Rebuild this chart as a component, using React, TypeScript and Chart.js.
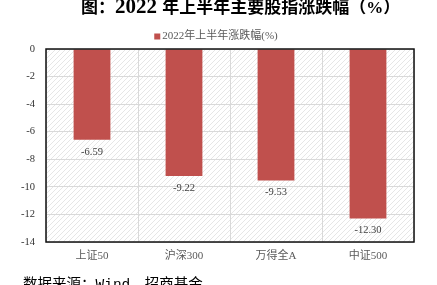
import React, { useEffect, useRef } from "react";
import { Chart, registerables } from "chart.js";
Chart.register(...registerables);

const titleHead = "图：";
const titleYear = "2022 ";
const titleTail = "年上半年主要股指涨跌幅（%）";
const categories = ["上证50", "沪深300", "万得全A", "中证500"];
const values = [-6.59, -9.22, -9.53, -12.3];
const seriesLabel = "2022年上半年涨跌幅(%)";
const yTicks = [0, -2, -4, -6, -8, -10, -12, -14];
const barColor = "#C0504D";
const FAMILY = '"Liberation Serif", "Times New Roman", "Noto Sans CJK SC", serif';

const chartPlugin = {
  id: "decor",
  beforeDraw(chart: any) {
    const { ctx, chartArea: a } = chart;
    const p = document.createElement("canvas");
    p.width = 5;
    p.height = 5;
    const pc = p.getContext("2d")!;
    pc.strokeStyle = "#e6e6e6";
    pc.lineWidth = 1;
    pc.beginPath();
    pc.moveTo(0, 5);
    pc.lineTo(5, 0);
    pc.moveTo(-1, 1);
    pc.lineTo(1, -1);
    pc.moveTo(4, 6);
    pc.lineTo(6, 4);
    pc.stroke();
    ctx.save();
    ctx.fillStyle = "#ffffff";
    ctx.fillRect(0, 0, chart.width, chart.height);
    const pat = ctx.createPattern(p, "repeat");
    if (pat) {
      ctx.fillStyle = pat;
      ctx.fillRect(a.left, a.top, a.right - a.left, a.bottom - a.top);
    }
    ctx.restore();
  },
  afterDatasetsDraw(chart: any) {
    const { ctx } = chart;
    const meta = chart.getDatasetMeta(0);
    const data = chart.data.datasets[0].data as number[];
    ctx.save();
    ctx.font = `10.5px ${FAMILY}`;
    ctx.fillStyle = "#404040";
    ctx.textAlign = "center";
    ctx.textBaseline = "middle";
    meta.data.forEach((el: any, i: number) => {
      ctx.fillText(data[i].toFixed(2), el.x, el.y + 12);
    });
    ctx.restore();
  },
  afterDraw(chart: any) {
    const { ctx, chartArea: a } = chart;
    ctx.save();
    ctx.strokeStyle = "#111111";
    ctx.lineWidth = 1.5;
    ctx.strokeRect(a.left, a.top, a.right - a.left, a.bottom - a.top);
    // legend
    const ds = chart.data.datasets[0];
    ctx.font = `11px ${FAMILY}`;
    const w = ctx.measureText(ds.label).width;
    const total = 6 + 2 + w;
    const start = 216 - total / 2;
    ctx.fillStyle = ds.backgroundColor;
    ctx.fillRect(start, 33.5, 6, 6);
    ctx.fillStyle = "#595959";
    ctx.textBaseline = "middle";
    ctx.textAlign = "left";
    ctx.fillText(ds.label, start + 8, 36.5);
    ctx.restore();
  },
};

export default function App() {
  const ref = useRef<HTMLCanvasElement>(null);
  useEffect(() => {
    if (!ref.current) return;
    const chart = new Chart(ref.current, {
      type: "bar",
      data: {
        labels: categories,
        datasets: [
          {
            label: seriesLabel,
            data: values,
            backgroundColor: barColor,
            borderWidth: 0,
            barPercentage: 0.4,
            categoryPercentage: 1,
          },
        ],
      },
      options: {
        responsive: false,
        animation: false,
        devicePixelRatio: 1,
        events: [],
        layout: { padding: { top: 49, right: 23, left: 0, bottom: 0 } },
        plugins: {
          legend: { display: false },
          title: { display: false },
          tooltip: { enabled: false },
        },
        scales: {
          x: {
            grid: { color: "#d9d9d9", lineWidth: 1, drawTicks: false, offset: true },
            border: { display: false },
            ticks: { color: "#595959", font: { size: 11, family: FAMILY }, padding: 8 },
            afterFit: (s: any) => {
              s.height = 43;
            },
          },
          y: {
            min: -14,
            max: 0,
            grid: { color: "#d9d9d9", lineWidth: 1, drawTicks: false },
            border: { display: false },
            ticks: { color: "#333333", font: { size: 10.5, family: FAMILY }, padding: 11, stepSize: 2 },
            afterBuildTicks: (s: any) => {
              s.ticks = yTicks.map((v) => ({ value: v }));
            },
            afterFit: (s: any) => {
              s.width = 46;
            },
          },
        },
      },
      plugins: [chartPlugin],
    } as any);
    return () => chart.destroy();
  }, []);

  return (
    <div style={{ position: "absolute", left: 0, top: 0, width: 437, height: 285, overflow: "hidden", background: "#fff" }}>
      <canvas ref={ref} width={437} height={285} style={{ position: "absolute", left: 0, top: 0 }} />
      <div
        style={{
          position: "absolute",
          left: 81,
          top: -4,
          fontFamily: FAMILY,
          fontWeight: "bold",
          fontSize: 17,
          lineHeight: "20px",
          whiteSpace: "nowrap",
          color: "#000",
        }}
      >
        {titleHead}
        <span style={{ fontSize: 21 }}>{titleYear}</span>
        {titleTail}
      </div>
      <div
        style={{
          position: "absolute",
          left: 23,
          top: 275,
          fontFamily: '"Noto Sans CJK SC", sans-serif',
          fontSize: 14.5,
          lineHeight: "15px",
          whiteSpace: "nowrap",
          color: "#000",
        }}
      >
        数据来源：<span style={{ fontFamily: '"Liberation Mono", monospace' }}>Wind</span>，招商基金
      </div>
    </div>
  );
}
